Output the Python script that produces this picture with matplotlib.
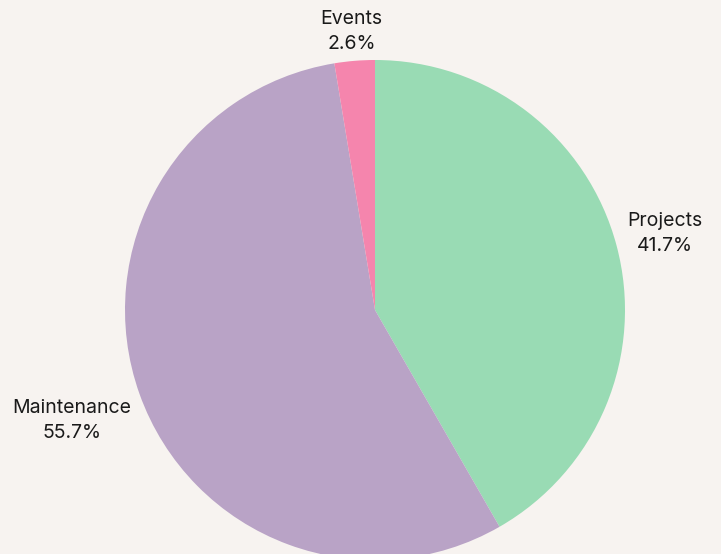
import numpy as np
import matplotlib.pyplot as plt

categories = ['Projects', 'Maintenance', 'Events']
shares = [41.7, 55.7, 2.6]
colors = ['#99dbb4', '#b9a3c6', '#f585ad']

# label offsets from the wedge edge, in pixels (dx, dy up)
offsets = {'Projects': (48, 12), 'Maintenance': (-68, -27), 'Events': (-3, 29)}

fig = plt.figure(figsize=(7.21, 5.54), dpi=100, facecolor='#f7f3f0')
ax = fig.add_axes([0, 0, 1, 1])
ax.set_facecolor('#f7f3f0')

cx, cy, r = 375, 244, 250
wedges, _ = ax.pie(shares, colors=colors, startangle=90, counterclock=False,
                   center=(cx, cy), radius=r, frame=True,
                   wedgeprops=dict(linewidth=0))
ax.set_xlim(0, 721)
ax.set_ylim(0, 554)
ax.axis('off')

for w, name, val in zip(wedges, categories, shares):
    mid = np.deg2rad((w.theta1 + w.theta2) / 2)
    ex, ey = cx + r * np.cos(mid), cy + r * np.sin(mid)
    dx, dy = offsets[name]
    ax.text(ex + dx, ey + dy, f'{name}\n{val}%', ha='center', va='center',
            fontsize=14, family=['Inter', 'DejaVu Sans'], color='#1a1a1a',
            linespacing=1.5)

fig.savefig('out.png', dpi=100, facecolor=fig.get_facecolor())
